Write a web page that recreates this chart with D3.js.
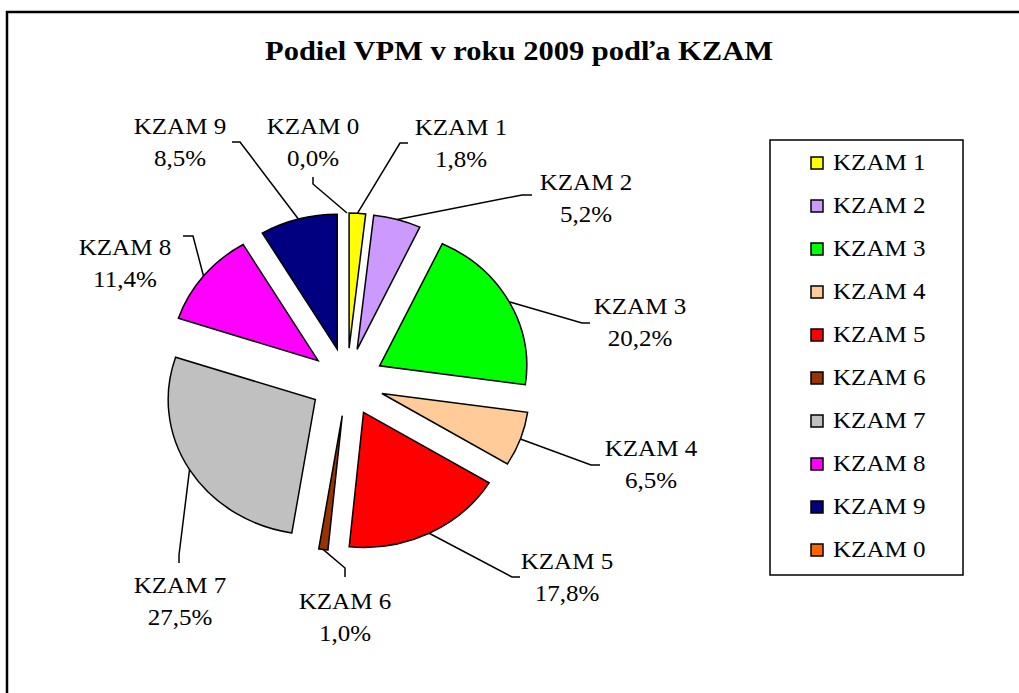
<!DOCTYPE html>
<html>
<head>
<meta charset="utf-8">
<script src="https://cdn.jsdelivr.net/npm/d3@7"></script>
<style>
	body { margin: 0; background: #fff; }
	svg { display: block; }
	text { font-family: "Liberation Serif", "Times New Roman", serif; fill: #000; }
</style>
</head>
<body>
<svg></svg>
<script>
// data (pie goes clockwise from 12 o'clock, legend in the same order)
const categories = ["KZAM 1", "KZAM 2", "KZAM 3", "KZAM 4", "KZAM 5", "KZAM 6", "KZAM 7", "KZAM 8", "KZAM 9", "KZAM 0"];
const values = [1.8, 5.2, 20.2, 6.5, 17.8, 1.0, 27.5, 11.4, 8.5, 0.0];
const colors = ["#ffff00", "#cc99ff", "#00ff00", "#ffcc99", "#ff0000", "#993300", "#c0c0c0", "#ff00ff", "#000080", "#ff6600"];
const title = "Podiel VPM v roku 2009 podľa KZAM";

// where excel put each data label (centre of the two lines) and its leader tail
const labelPos = [
	{ x: 461, y: 127, elbow: [400, 143], end: [408, 143] },
	{ x: 586, y: 182, elbow: [522, 195], end: [532, 195] },
	{ x: 640, y: 306, elbow: [582, 323], end: [590, 323] },
	{ x: 651, y: 448, elbow: [591, 465], end: [600, 465] },
	{ x: 567, y: 561, elbow: [512, 577], end: [520, 577] },
	{ x: 345, y: 601, elbow: [345, 568], end: [345, 577] },
	{ x: 180, y: 585, elbow: [179, 555], end: [179, 563] },
	{ x: 125, y: 247, elbow: [193, 236], end: [183, 236] },
	{ x: 180, y: 126, elbow: [240, 142], end: [232, 142] },
	{ x: 313, y: 126, elbow: [313, 184], end: [313, 177] }
];

const size = { w: 1019, h: 693 };
const center = { x: 347, y: 382 };
const radius = 135;
const stretch = 1.09; // the old chart is a bit wider than tall
const explode = 34;
const lineGap = 32;

const svg = d3.select("svg").attr("width", size.w).attr("height", size.h);

// frame of the chart area (cut by the page on the right and bottom)
svg.append("path")
	.attr("d", `M7,${size.h} V12 H${size.w}`)
	.attr("fill", "none")
	.attr("stroke", "#000")
	.attr("stroke-width", 2.5);

function stretchedText(g, x, y, txt, anchor, fs, bold) {
	return g.append("text")
		.attr("transform", `translate(${x},${y}) scale(${stretch},1)`)
		.attr("text-anchor", anchor)
		.attr("font-size", fs)
		.attr("font-weight", bold ? "bold" : "normal")
		.text(txt);
}

stretchedText(svg, 519, 60, title, "middle", 28, true);

const data = categories.map((c, i) => ({ name: c, value: values[i], color: colors[i] }));
const pie = d3.pie().sort(null).value((d) => d.value);
const arcs = pie(data);
const arc = d3.arc().innerRadius(0).outerRadius(radius);
const mid = (d) => (d.startAngle + d.endAngle) / 2;

const pieG = svg.append("g")
	.attr("transform", `translate(${center.x},${center.y}) scale(${stretch},1)`);

pieG.selectAll("path")
	.data(arcs.filter((d) => d.data.value > 0))
	.join("path")
	.attr("transform", (d) => `translate(${Math.sin(mid(d)) * explode},${-Math.cos(mid(d)) * explode})`)
	.attr("d", arc)
	.attr("fill", (d) => d.data.color)
	.attr("stroke", "#000")
	.attr("stroke-width", 1.5)
	.attr("vector-effect", "non-scaling-stroke");

// leader lines
const fmt = (v) => d3.format(".1f")(v).replace(".", ",") + "%";
const labelG = svg.append("g");

arcs.forEach((d, i) => {
	const a = mid(d);
	const rr = radius + explode;
	const start = [center.x + stretch * Math.sin(a) * rr, center.y - Math.cos(a) * rr];
	const p = labelPos[i];
	labelG.append("path")
		.attr("d", d3.line()([start, p.elbow, p.end]))
		.attr("fill", "none")
		.attr("stroke", "#000")
		.attr("stroke-width", 1.5);
	stretchedText(labelG, p.x, p.y + 8, d.data.name, "middle", 23);
	stretchedText(labelG, p.x, p.y + 8 + lineGap, fmt(d.data.value), "middle", 23);
});

// legend
const legend = { x: 770, y: 140, w: 193, h: 435, step: 43 };
const legendG = svg.append("g");
legendG.append("rect")
	.attr("x", legend.x)
	.attr("y", legend.y)
	.attr("width", legend.w)
	.attr("height", legend.h)
	.attr("fill", "#fff")
	.attr("stroke", "#000")
	.attr("stroke-width", 1.5);

data.forEach((d, i) => {
	const cy = legend.y + 23 + i * legend.step;
	legendG.append("rect")
		.attr("x", 811)
		.attr("y", cy - 6)
		.attr("width", 12)
		.attr("height", 12)
		.attr("fill", d.color)
		.attr("stroke", "#000")
		.attr("stroke-width", 1.5);
	stretchedText(legendG, 833, cy + 7, d.name, "start", 23);
});
</script>
</body>
</html>
